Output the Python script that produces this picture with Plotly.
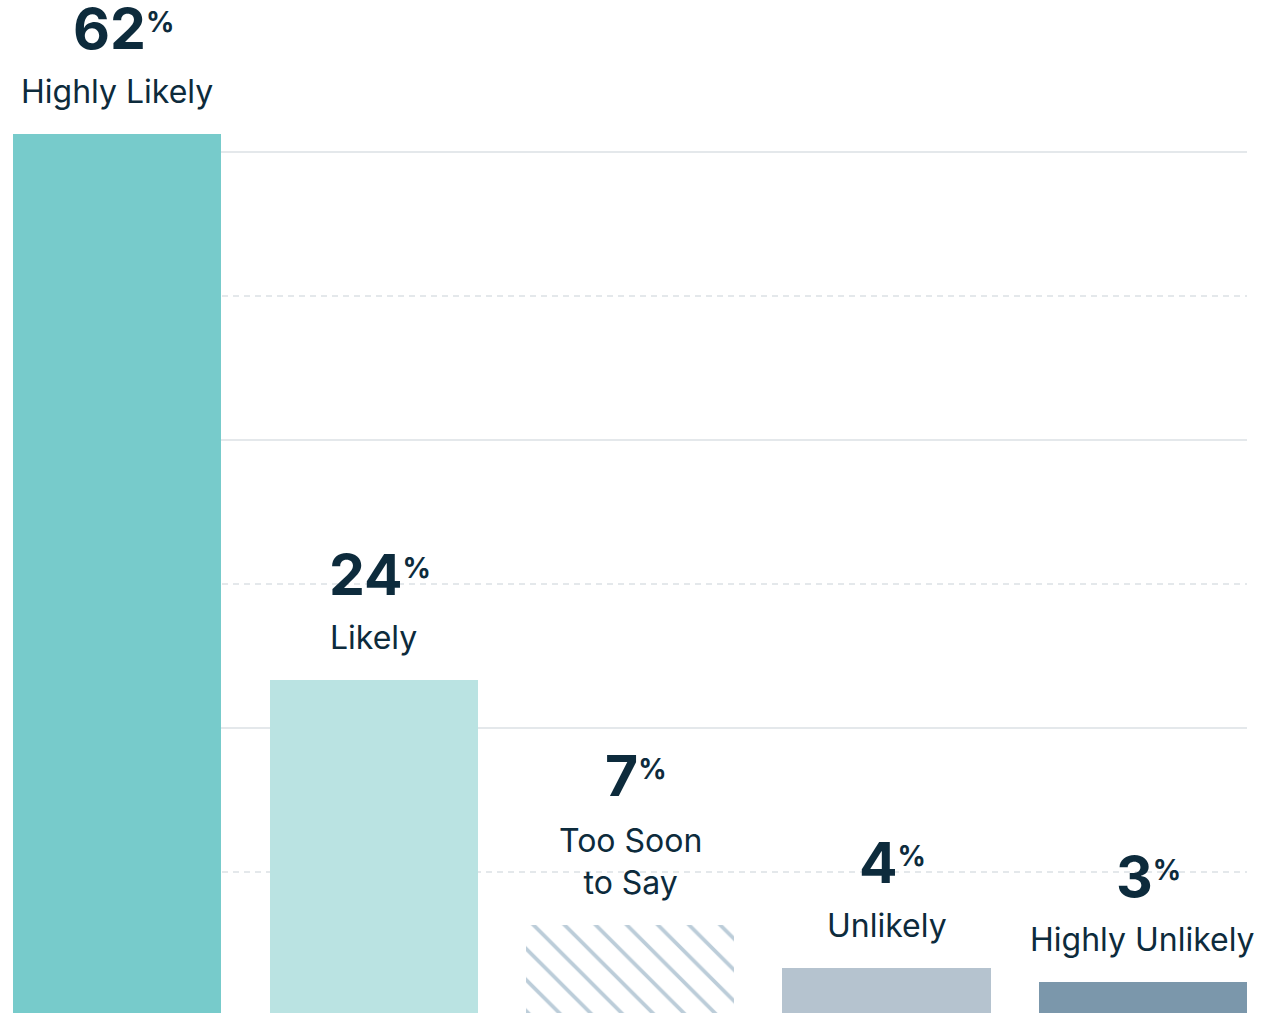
import plotly.graph_objects as go

# Survey responses
categories = ["Highly Likely", "Likely", "Too Soon<br>to Say", "Unlikely", "Highly Unlikely"]
values = [62, 24, 7, 4, 3]
bar_colors = ["#77cbcb", "#bae3e2", "#bccdd9", "#b5c3cf", "#7b97ab"]
pattern_shapes = ["", "", "\\", "", ""]

# Grid positions (solid and dashed reference lines)
solid_grid = [20.69, 40.72, 60.74]
dashed_grid = [10.67, 30.7, 50.73]

TEXT = "#0d2b3c"
FONT = "Inter"

x_pos = list(range(len(categories)))

fig = go.Figure()
fig.add_trace(go.Bar(
    x=x_pos,
    y=values,
    width=0.811,
    marker=dict(
        color=bar_colors,
        line=dict(width=0),
        pattern=dict(shape=pattern_shapes, fillmode="replace",
                     fgcolor=bar_colors, bgcolor=["#ffffff"] * len(values),
                     fgopacity=1, size=22, solidity=0.17),
    ),
    hoverinfo="skip",
))

annotations = []
for xi, v, label in zip(x_pos, values, categories):
    extra_lines = label.count("<br>")
    annotations.append(dict(
        x=xi, y=v, xref="x", yref="y", text=label, showarrow=False,
        yanchor="bottom", yshift=21, align="center",
        font=dict(family=FONT, size=32, color=TEXT),
    ))
    annotations.append(dict(
        x=xi, y=v, xref="x", yref="y",
        text=f"<b><span style='font-size:57px'>{v}</span><sup>%</sup></b>",
        showarrow=False, yanchor="bottom", yshift=69 + 44 * extra_lines, xshift=6,
        font=dict(family=FONT, size=40, color=TEXT),
    ))

fig.update_layout(
    width=1274, height=1013,
    margin=dict(l=13, r=27, t=0, b=0),
    plot_bgcolor="#ffffff", paper_bgcolor="#ffffff",
    showlegend=False,
    bargap=0,
    annotations=annotations,
    xaxis=dict(range=[-0.4055, 4.4055], visible=False, fixedrange=True),
    yaxis=dict(
        range=[0.86, 71.31],
        showticklabels=False, ticks="", zeroline=False, showline=False,
        tickmode="array", tickvals=solid_grid,
        showgrid=True, gridcolor="#e4e8eb", gridwidth=1.5,
        minor=dict(tickmode="array", tickvals=dashed_grid, showgrid=True,
                   gridcolor="#e4e8eb", gridwidth=1.5, griddash="6px,5px"),
    ),
)

fig.write_html("out.html")
